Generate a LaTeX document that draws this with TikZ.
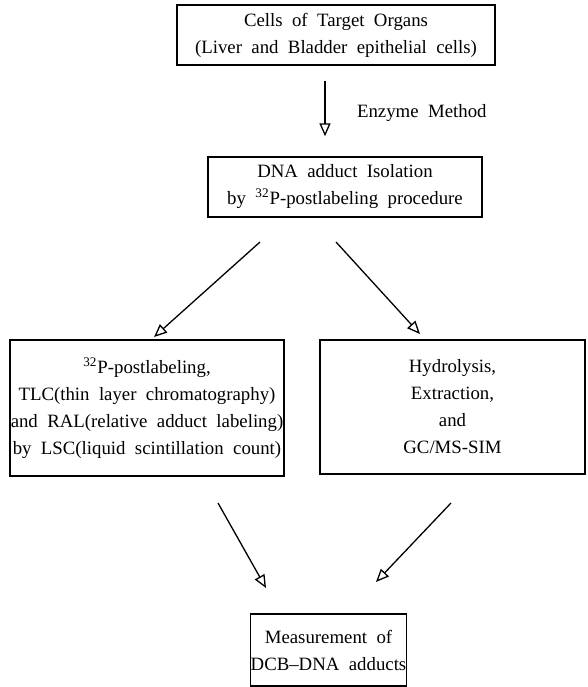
\documentclass[tikz,border=0pt]{standalone}
\usepackage{fontspec}
\setmainfont{Liberation Serif}
\usetikzlibrary{arrows.meta,calc}

\newcommand\boxfont{\fontsize{9.4}{13.5}\selectfont\spaceskip=0.5em plus 0.1em\relax}

\tikzset{
  box/.style={draw, line width=0.65pt, align=center, inner sep=0pt, font=\boxfont},
  lbl/.style={font=\boxfont},
  flow/.style={-{Triangle[open,length=6.5pt,width=5.5pt]}, line width=0.65pt},
}

\begin{document}
\begin{tikzpicture}[x=0.5pt,y=-0.5pt]
\useasboundingbox (0,0) rectangle (588,687);
% boxes
\node[box, minimum width=159pt, minimum height=30pt] (cells) at (336,35)
  {Cells of Target Organs\\(Liver and Bladder epithelial cells)};
\node[box, minimum width=137pt, minimum height=30pt] (isol) at (345,187)
  {DNA adduct Isolation\\by \textsuperscript{32}P-postlabeling procedure};
\node[box, minimum width=137pt, minimum height=68pt] (tlc) at (147,408)
  {\textsuperscript{32}P-postlabeling,\\TLC(thin layer chromatography)\\and RAL(relative adduct labeling)\\by LSC(liquid scintillation count)};
\node[box, minimum width=132.5pt, minimum height=67pt] (gcms) at (452.5,407)
  {Hydrolysis,\\Extraction,\\and\\GC/MS-SIM};
\node[box, minimum width=76.5pt, minimum height=36pt] (meas) at (328.5,650)
  {Measurement of\\DCB--DNA adducts};
\node[lbl, anchor=west] (enz) at (350,113) {Enzyme Method};
% connectors
\coordinate (c1) at (325,0);
\draw[flow, shorten <=7.5pt, shorten >=10pt] (cells.south -| c1) -- (isol.north -| c1);
\coordinate (l1) at (260,242);
\coordinate (l2) at (154,337);
\coordinate (r1) at (336,242);
\coordinate (r2) at (420,334);
\draw[flow] (l1) -- (l2);
\draw[flow] (r1) -- (r2);
\coordinate (l3) at (218,503);
\coordinate (l4) at (266,588);
\coordinate (r3) at (451,503);
\coordinate (r4) at (376,582);
\draw[flow] (l3) -- (l4);
\draw[flow] (r3) -- (r4);
\end{tikzpicture}
\end{document}
